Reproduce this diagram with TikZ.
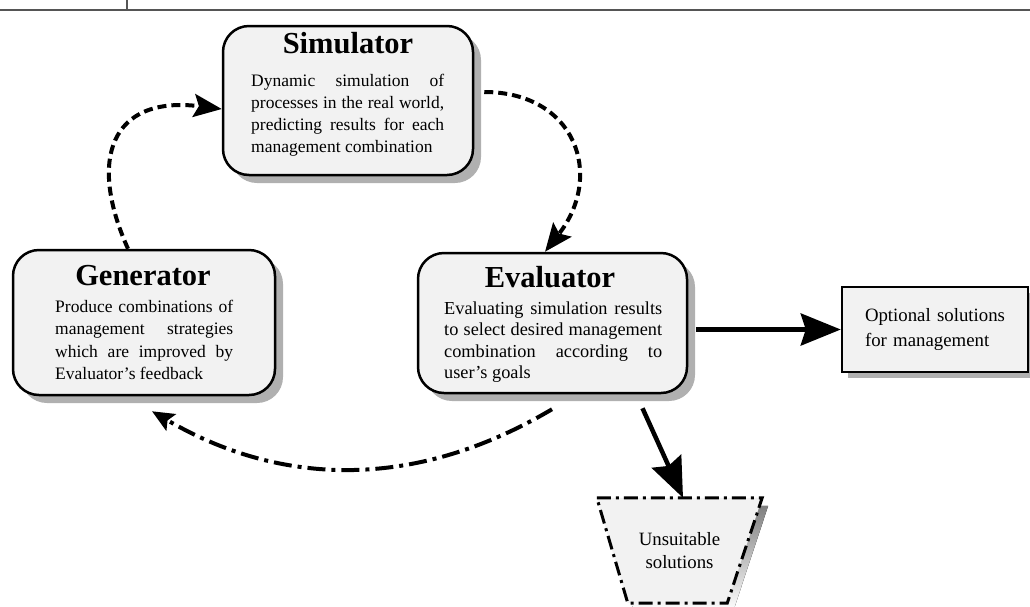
\documentclass[tikz,border=0pt]{standalone}
\usepackage{fontspec}
\setmainfont{Liberation Serif}
\usetikzlibrary{arrows.meta,shadows,calc}
\definecolor{boxfill}{HTML}{F2F2F2}
\definecolor{shade}{HTML}{B0B0B0}
\definecolor{rule}{HTML}{555555}
\begin{document}
\begin{tikzpicture}[x=1pt,y=-1pt,
  mainbox/.style={draw, line width=2.5pt, rounded corners=26pt, fill=boxfill,
    drop shadow={shadow xshift=8pt, shadow yshift=-8pt, fill=shade, opacity=1}, inner sep=0pt},
  titletext/.style={font=\fontsize{30.5}{36}\selectfont\bfseries, inner sep=0pt, anchor=base},
  bodytext/.style={inner sep=0pt, anchor=base west, align=justify},
  plainbox/.style={draw, line width=2.5pt, fill=boxfill,
    drop shadow={shadow xshift=6pt, shadow yshift=-6pt, fill=shade, opacity=1}},
  dashflow/.style={line width=4pt, dash pattern=on 9pt off 5pt,
    -{Stealth[length=28pt,width=23pt,inset=5pt]}},
  dotflow/.style={line width=4pt, dash pattern=on 18pt off 6pt on 4pt off 6pt,
    -{Stealth[length=22pt,width=19pt,inset=4pt]}},
  solidflow/.style={line width=4.5pt, -{Stealth[length=40pt,width=32pt,inset=5pt]}}
]
\useasboundingbox (0,0) rectangle (1030,606);
% cut-off table rule at the top
\draw[rule, line width=1.5pt] (0,10) -- (1030,10);
\draw[rule, line width=1.5pt] (127,0) -- (127,10);

% Simulator
\node[mainbox, minimum width=250pt, minimum height=149pt] (sim) at (348,100.5) {};
\node[titletext] (simT) at (348,53) {Simulator};
\node[bodytext, text width=193pt, font=\fontsize{17.5}{22}\selectfont] (simB) at (251,86)
  {Dynamic simulation of\linebreak processes in the real world,\linebreak predicting results for each\linebreak management combination};

% Generator
\node[mainbox, minimum width=262pt, minimum height=145pt] (gen) at (144,322.5) {};
\node[titletext] (genT) at (143,285) {Generator};
\node[bodytext, text width=178pt, font=\fontsize{17.5}{22.5}\selectfont] (genB) at (55,312)
  {Produce combinations of\linebreak management strategies\linebreak which are improved by\linebreak Evaluator’s feedback};

% Evaluator
\node[mainbox, minimum width=269pt, minimum height=140pt] (eval) at (552.5,323) {};
\node[titletext] (evalT) at (550,287) {Evaluator};
\node[bodytext, text width=218pt, font=\fontsize{18.3}{21.5}\selectfont] (evalB) at (444,314)
  {Evaluating simulation results\linebreak to select desired management\linebreak combination according to\linebreak user’s goals};

% Optional solutions
\node[plainbox, minimum width=186pt, minimum height=85pt, text width=140pt, inner xsep=23pt,
  align=left, font=\fontsize{18.8}{25}\selectfont] (opt) at (935,329.5)
  {Optional solutions\\for management};

% Unsuitable solutions (trapezoid)
\node[minimum width=165pt, minimum height=105pt, inner sep=0pt] (unsuit) at (679.5,550.5) {};
\fill[shade] ([shift={(6,8)}]unsuit.north west) -- ([shift={(6,8)}]unsuit.north east)
  -- ([shift={(6-35,8)}]unsuit.south east) -- ([shift={(6+31,8)}]unsuit.south west) -- cycle;
\draw[line width=3pt, fill=boxfill, dash pattern=on 14pt off 5pt on 3pt off 5pt]
  (unsuit.north west) -- (unsuit.north east) -- ([xshift=-35pt]unsuit.south east)
  -- ([xshift=31pt]unsuit.south west) -- cycle;
\node[align=center, font=\fontsize{18.8}{23}\selectfont, inner sep=0pt] (unsuitT) at (unsuit.center)
  {Unsuitable\\solutions};

% connectors
\draw[dashflow] ([xshift=-16pt]gen.north) .. controls (88,160) and (110,95) .. ([yshift=-8.5pt]sim.west);
\draw[dashflow] ([xshift=10pt,yshift=8.5pt]sim.east) .. controls (575,92) and (605,175) .. ([xshift=-7.5pt]eval.north);
\draw[dotflow] ([xshift=-0.5pt,yshift=-15pt]eval.south) .. controls (419,488) and (285,489) .. ([xshift=8pt,yshift=-15pt]gen.south);
\draw[solidflow] ([xshift=8pt]eval.east |- opt.west) -- (opt.west);
\draw[solidflow] ([xshift=90pt,yshift=-14pt]eval.south) -- ([xshift=3.5pt]unsuit.north);
\end{tikzpicture}
\end{document}
